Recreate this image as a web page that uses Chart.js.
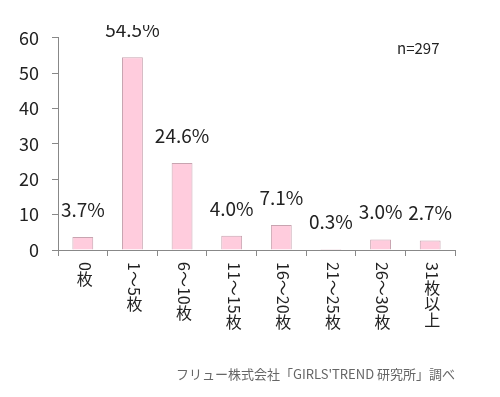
<!DOCTYPE html>
<html>
<head>
<meta charset="utf-8">
<script src="https://cdn.jsdelivr.net/npm/chart.js@4"></script>
<style>
  body { margin: 0; background: #fff; width: 500px; height: 397px; position: relative; overflow: hidden; }
  .wrap { position: absolute; left: 0; top: 25px; width: 500px; height: 372px; overflow: hidden; }
  .wrap canvas { position: absolute; left: 0; top: -11px; }
  .note { position: absolute; left: 397px; top: 37px; font: 15px "Noto Sans CJK JP", sans-serif; color: #222; }
  .source { position: absolute; right: 45px; top: 364px; font: 13px "Noto Sans CJK JP", sans-serif; color: #666; }
</style>
</head>
<body>
<div class="wrap"><canvas id="myChart" width="500" height="383"></canvas></div>
<div class="note">n=297</div>
<div class="source">フリュー株式会社「GIRLS'TREND 研究所」調べ</div>
<script>
  const labels = ['0枚', '1～5枚', '6～10枚', '11～15枚', '16～20枚', '21～25枚', '26～30枚', '31枚以上'];
  const values = [3.7, 54.5, 24.6, 4.0, 7.1, 0.3, 3.0, 2.7];
  const yTicks = [0, 10, 20, 30, 40, 50, 60];

  const FONT = '"Noto Sans CJK JP", sans-serif';

  // value labels above bars
  const valueLabels = {
    id: 'valueLabels',
    afterDatasetsDraw(chart) {
      const ctx = chart.ctx;
      const meta = chart.getDatasetMeta(0);
      ctx.save();
      ctx.font = '19px ' + FONT;
      ctx.fillStyle = '#222';
      ctx.textAlign = 'center';
      ctx.textBaseline = 'alphabetic';
      meta.data.forEach(function(bar, i) {
        ctx.fillText(values[i].toFixed(1) + '%', bar.x, bar.y - 20);
      });
      ctx.restore();
    }
  };

  // vertical (tategaki) category labels: digits and ～ turned, kanji upright
  const verticalLabels = {
    id: 'verticalLabels',
    afterDraw(chart) {
      const ctx = chart.ctx;
      const x = chart.scales.x;
      ctx.save();
      ctx.font = '16px ' + FONT;
      ctx.fillStyle = '#222';
      labels.forEach(function(txt, i) {
        const cx = x.getPixelForValue(i) + 2;
        let y = chart.chartArea.bottom + 12;
        for (const ch of txt) {
          if (/[0-9～]/.test(ch)) {
            const w = ctx.measureText(ch).width;
            ctx.save();
            ctx.translate(cx, y);
            ctx.rotate(Math.PI / 2);
            ctx.textAlign = 'left';
            ctx.textBaseline = 'middle';
            ctx.fillText(ch, 0, 0);
            ctx.restore();
            y += w;
          } else {
            ctx.textAlign = 'center';
            ctx.textBaseline = 'top';
            ctx.fillText(ch, cx, y);
            y += 16;
          }
        }
      });
      ctx.restore();
    }
  };

  const data = {
    labels: labels,
    datasets: [{
      data: values,
      backgroundColor: '#ffccdd',
      borderColor: '#c8a4b0',
      borderWidth: 1,
      barPercentage: 0.42,
      categoryPercentage: 1
    }]
  };

  const config = {
    type: 'bar',
    data: data,
    options: {
      responsive: false,
      animation: false,
      layout: { padding: { left: 0, right: 45, top: 1, bottom: 0 } },
      plugins: {
        legend: { display: false },
        tooltip: { enabled: false }
      },
      scales: {
        x: {
          afterFit: function(s) { s.height = 147; },
          ticks: { display: false },
          grid: { drawOnChartArea: false, drawTicks: true, tickLength: 6, color: '#888' },
          border: { color: '#888' }
        },
        y: {
          min: 0,
          max: 60,
          afterFit: function(s) { s.width = 58; },
          afterBuildTicks: function(s) { s.ticks = yTicks.map(function(v) { return { value: v }; }); },
          ticks: { padding: 13, color: '#222', font: { size: 18, family: FONT } },
          grid: { drawOnChartArea: false, drawTicks: true, tickLength: 6, color: '#888' },
          border: { color: '#888' }
        }
      }
    },
    plugins: [valueLabels, verticalLabels]
  };

  const myChart = new Chart(document.getElementById('myChart'), config);
</script>
</body>
</html>
